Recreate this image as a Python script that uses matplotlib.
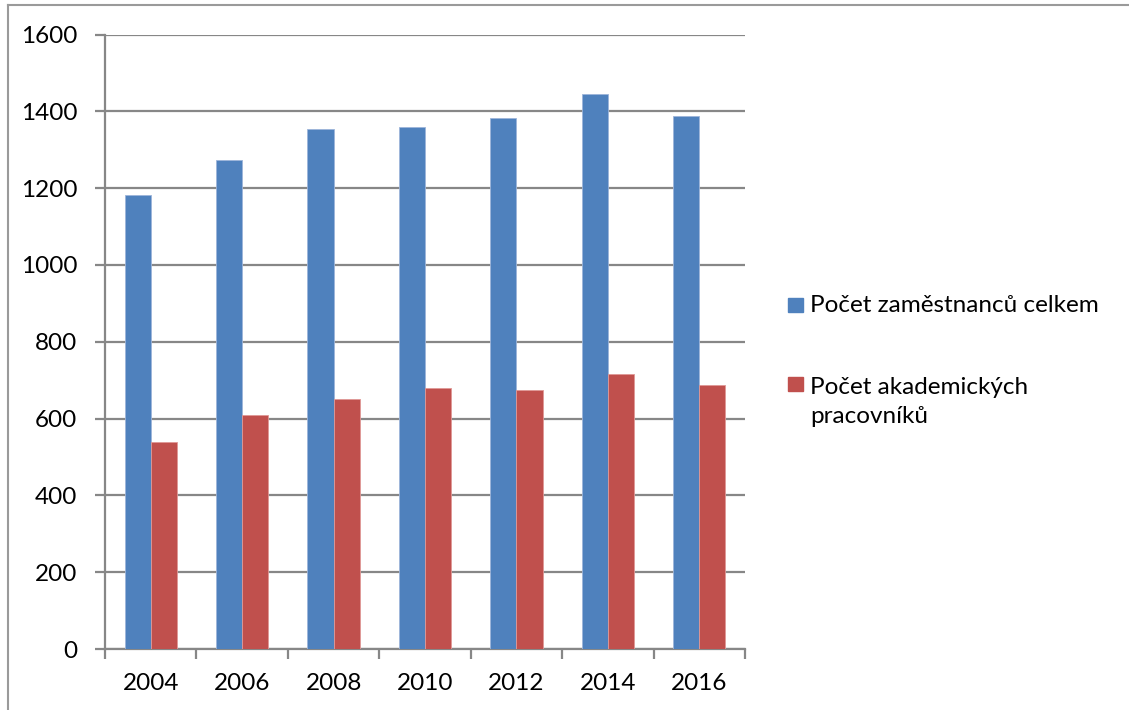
import matplotlib.pyplot as plt
import numpy as np
from matplotlib.lines import Line2D
from matplotlib.patches import Rectangle

plt.rcParams['font.family'] = ['Lato', 'DejaVu Sans']

years = ['2004', '2006', '2008', '2010', '2012', '2014', '2016']
zamestnanci = [1181, 1272, 1353, 1359, 1382, 1446, 1389]
akademici = [540, 608, 650, 680, 675, 715, 687]
series_names = ['Počet zaměstnanců celkem', 'Počet akademických\npracovníků']
colors = ['#4F81BD', '#C0504D']
edge_colors = ['#9DB5DA', '#E09896']

W, H = 1129, 710
fs = 17.5
fig = plt.figure(figsize=(W / 100, H / 100), dpi=100)
ax = fig.add_axes([105 / W, 1 - 649 / H, 640 / W, (649 - 34.5) / H])

x = np.arange(len(years))
w = 1 / 3.5
for i, vals in enumerate([zamestnanci, akademici]):
    ax.bar(x + (i - 0.5) * w, vals, width=w, color=colors[i],
           edgecolor=edge_colors[i], linewidth=0.6, zorder=3)

ax.set_xlim(-0.5, len(years) - 0.5)
ax.set_ylim(0, 1600)
ax.set_yticks(range(0, 1601, 200))
ax.yaxis.grid(True, color='#878787', linewidth=1.6, zorder=0)
ax.set_axisbelow(True)

# x ticks on category boundaries, labels centred
ax.set_xticks(np.arange(-0.5, len(years)), minor=False)
ax.set_xticklabels([])
ax.set_xticks(x, minor=True)
ax.set_xticklabels(years, minor=True)
ax.tick_params(axis='x', which='major', length=7, width=1.6, color='#878787', direction='out')
ax.tick_params(axis='x', which='minor', length=0, pad=17, labelsize=fs)
ax.tick_params(axis='y', length=7, width=1.6, color='#878787', pad=13, labelsize=fs)

for s in ['top', 'right']:
    ax.spines[s].set_visible(False)
for s in ['left', 'bottom']:
    ax.spines[s].set_color('#878787')
    ax.spines[s].set_linewidth(1.6)

# legend drawn by hand to match Excel layout (baseline of last text line)
square_y = [298, 377]
text_base = [312, 423]
for i, name in enumerate(series_names):
    fig.add_artist(Rectangle((788 / W, 1 - (square_y[i] + 14) / H), 15 / W, 14 / H,
                             transform=fig.transFigure, color=colors[i]))
    fig.text(810 / W, 1 - text_base[i] / H, name, fontsize=fs, va='baseline', ha='left',
             linespacing=1.45)

# chart frame
fig.add_artist(Line2D([8 / W, 8 / W], [0, 1 - 5 / H], color='#9a9a9a', linewidth=1.5,
                      transform=fig.transFigure))
fig.add_artist(Line2D([8 / W, 1], [1 - 5 / H, 1 - 5 / H], color='#9a9a9a', linewidth=1.5,
                      transform=fig.transFigure))

fig.savefig('out.png', dpi=100)
